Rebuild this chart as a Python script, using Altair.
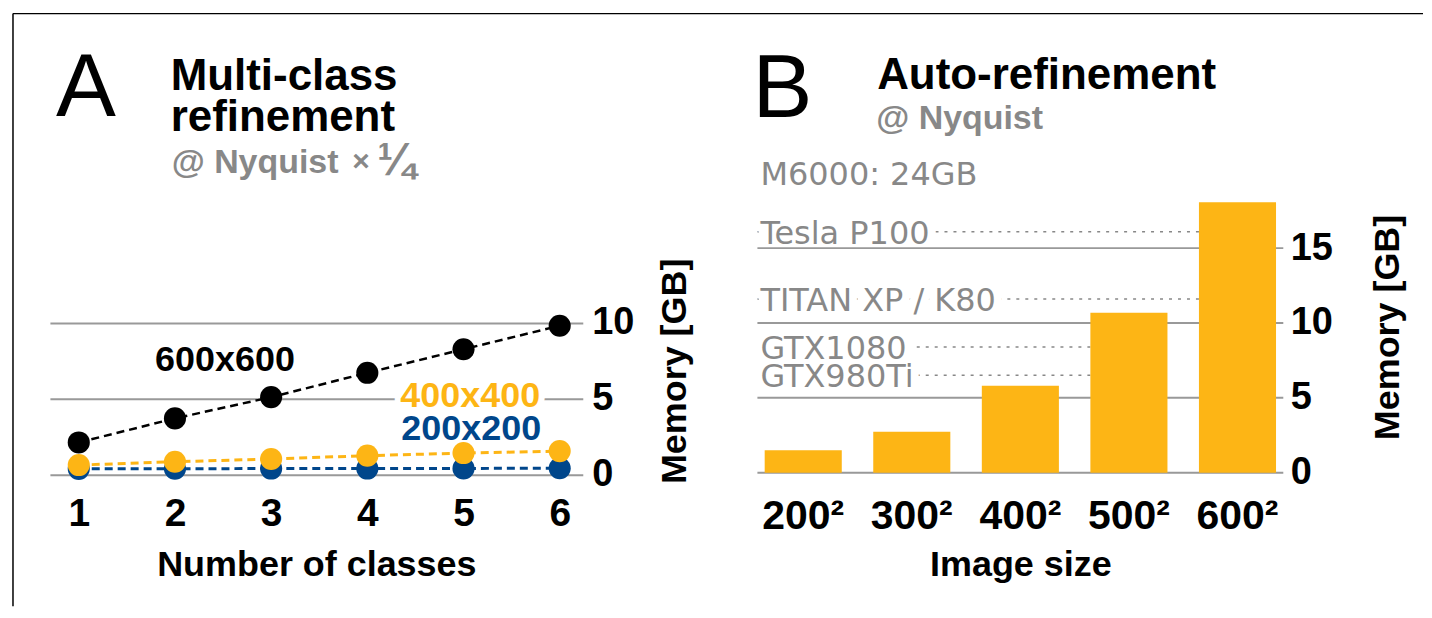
import altair as alt
import pandas as pd

# ---------------- Panel A: multi-class refinement ----------------
classes = [1, 2, 3, 4, 5, 6]
mem_600 = [2.12, 3.7, 5.1, 6.7, 8.25, 9.8]
mem_400 = [0.63, 0.85, 1.03, 1.25, 1.42, 1.55]
mem_200 = [0.38, 0.39, 0.40, 0.40, 0.41, 0.42]
series_order = ["600x600", "200x200", "400x400"]   # drawing order
ticks_a_y = [0, 5, 10]

# in-plot series labels, anchored in data units (class, GB)
label_a_text = ["600x600", "400x400", "200x200"]
label_a_class = [2.52, 5.07, 5.08]
label_a_mem = [7.54, 5.15, 2.98]
label_a_on_grid = ["400x400"]   # label that interrupts a grid line

# ---------------- Panel B: auto-refinement ----------------
sizes = ["200²", "300²", "400²", "500²", "600²"]
mem_auto = [1.5, 2.73, 5.8, 10.69, 18.07]
ticks_b_y = [0, 5, 10, 15]
gpus = ["Tesla P100", "TITAN XP / K80", "GTX1080", "GTX980Ti"]
gpu_mem = [16.1, 11.6, 8.4, 6.5]
top_gpu = "M6000: 24GB"
top_gpu_mem = 20.0

# ---------------- style ----------------
FONT = "Liberation Sans"
GPU_FONT = "DejaVu Sans"
BLACK = "#000000"
BLUE = "#00468B"
GOLD = "#FDB515"
GRID = "#999999"
GRAY = "#888888"

W_A, H_A = 534, 362
W_B, H_B = 527, 360


def one(text):
    return pd.DataFrame({"t": [text]})


def text_layer(text, x, y, size, color=BLACK, weight="normal", font=FONT):
    return alt.Chart(one(text)).mark_text(
        font=font, fontSize=size, fontWeight=weight, color=color,
        align="left", baseline="alphabetic"
    ).encode(text="t:N", x=alt.value(x), y=alt.value(y))


# ================= Panel A =================
series_vals = {"600x600": mem_600, "200x200": mem_200, "400x400": mem_400}
series_color = {"600x600": BLACK, "200x200": BLUE, "400x400": GOLD}
series_width = {"600x600": 2.5, "200x200": 3, "400x400": 3}

x_scale_a = alt.Scale(domain=[0.7, 6.24], nice=False, zero=False)
y_scale_a = alt.Scale(domain=[0, 23.77], nice=False)

x_axis_a = alt.Axis(
    values=classes, format="d", title="Number of classes", grid=False, ticks=False,
    domain=False, labelFont=FONT, labelFontSize=39, labelFontWeight="bold",
    labelColor=BLACK, labelPadding=20, labelFlush=False, labelOverlap=False,
    titleFont=FONT, titleFontSize=36, titleFontWeight="bold", titleColor=BLACK,
    titleY=101, titleBaseline="alphabetic",
)
y_axis_a = alt.Axis(
    orient="right", values=ticks_a_y, title="Memory [GB]", grid=True,
    gridColor=GRID, gridWidth=2, ticks=False, domain=False,
    labelFont=FONT, labelFontSize=38, labelFontWeight="bold", labelColor=BLACK,
    labelPadding=9, titleFont=FONT, titleFontSize=36, titleFontWeight="bold",
    titleColor=BLACK, titleAngle=270, titleX=92, titleY=258,
    titleAlign="center", titleBaseline="middle",
)


def xa(field="classes"):
    return alt.X(f"{field}:Q", scale=x_scale_a, axis=x_axis_a)


def ya(field="mem"):
    return alt.Y(f"{field}:Q", scale=y_scale_a, axis=y_axis_a)


layers_a = []

# frame (top-left corner of the figure box)
frame_df = one("")
layers_a.append(alt.Chart(frame_df).mark_rule(color=BLACK, strokeWidth=1.5).encode(
    x=alt.value(-37), y=alt.value(-100), y2=alt.value(494)))
layers_a.append(alt.Chart(frame_df).mark_rule(color=BLACK, strokeWidth=1.5).encode(
    x=alt.value(-37), x2=alt.value(1376), y=alt.value(-100)))

# titles
layers_a.append(text_layer("A", 6, 3, 90))
layers_a.append(text_layer("Multi-class", 121, -23, 44, weight="bold"))
layers_a.append(text_layer("refinement", 121, 18, 44, weight="bold"))
layers_a.append(text_layer("@ Nyquist", 122, 60, 34, color=GRAY, weight="bold"))
layers_a.append(text_layer("×", 303, 58, 30, color=GRAY, weight="bold"))
layers_a.append(text_layer("¼", 328, 62, 46, color=GRAY, weight="bold"))

for name in series_order:
    df = pd.DataFrame({"classes": classes, "mem": series_vals[name]})
    layers_a.append(alt.Chart(df).mark_line(
        color=series_color[name], strokeDash=[8, 5], strokeWidth=series_width[name]
    ).encode(x=xa(), y=ya()))

for name in series_order:
    df = pd.DataFrame({"classes": classes, "mem": series_vals[name]})
    layers_a.append(alt.Chart(df).mark_circle(
        color=series_color[name], size=490, opacity=1
    ).encode(x=xa(), y=ya()))

lab_df = pd.DataFrame({"label": label_a_text, "classes": label_a_class, "mem": label_a_mem})
halo_a_df = lab_df[lab_df["label"].isin(label_a_on_grid)]
lab_color = alt.Color("label:N", scale=alt.Scale(domain=label_a_text, range=[BLACK, GOLD, BLUE]), legend=None)
layers_a.append(alt.Chart(halo_a_df).mark_text(
    font=FONT, fontSize=36, fontWeight="bold", fill="white", stroke="white",
    strokeWidth=12, strokeJoin="round", align="center", baseline="middle"
).encode(x=xa(), y=ya(), text="label:N"))
layers_a.append(alt.Chart(lab_df).mark_text(
    font=FONT, fontSize=36, fontWeight="bold", align="center", baseline="middle"
).encode(x=xa(), y=ya(), text="label:N", color=lab_color))

panel_a = alt.layer(*layers_a).properties(width=W_A, height=H_A)

# ================= Panel B =================
bar_df = pd.DataFrame({"size": sizes, "mem": mem_auto})


def first_exceeding(m):
    for s, v in zip(sizes, mem_auto):
        if v > m:
            return s
    return sizes[-1]


gpu_df = pd.DataFrame({"gpu": gpus, "mem": gpu_mem, "until": [first_exceeding(m) for m in gpu_mem]})
top_df = pd.DataFrame({"gpu": [top_gpu], "mem": [top_gpu_mem]})
grid_df = pd.DataFrame({"mem": ticks_b_y})

x_scale_b = alt.Scale(domain=sizes, paddingInner=0.29, paddingOuter=0.067)
x_axis_b = alt.Axis(
    title="Image size", labelAngle=0, ticks=False, domain=False, grid=False,
    labelFont=FONT, labelFontSize=41, labelFontWeight="bold", labelColor=BLACK,
    labelPadding=24, titleFont=FONT, titleFontSize=36, titleFontWeight="bold",
    titleColor=BLACK, titleY=103, titleBaseline="alphabetic",
)
y_scale_b = alt.Scale(domain=[0, 24], nice=False)
y_axis_b = alt.Axis(
    orient="right", values=ticks_b_y, title="Memory [GB]", grid=False,
    ticks=False, domain=False, labelFont=FONT, labelFontSize=38,
    labelFontWeight="bold", labelColor=BLACK, labelPadding=7,
    titleFont=FONT, titleFontSize=36, titleFontWeight="bold", titleColor=BLACK,
    titleAngle=270, titleX=104, titleY=214, titleAlign="center", titleBaseline="middle",
)


def yb():
    return alt.Y("mem:Q", scale=y_scale_b, axis=y_axis_b)


layers_b = []
layers_b.append(text_layer("B", -5, 4, 90))
layers_b.append(text_layer("Auto-refinement", 120, -24, 44, weight="bold"))
layers_b.append(text_layer("@ Nyquist", 119, 16, 34, color=GRAY, weight="bold"))

layers_b.append(alt.Chart(gpu_df).mark_rule(
    color=GRAY, strokeWidth=1.5, strokeDash=[3, 6]
).encode(
    x=alt.X("until:N", sort=sizes, bandPosition=0, scale=x_scale_b, axis=x_axis_b),
    x2=alt.value(0),
    y=yb(),
))
layers_b.append(alt.Chart(gpu_df).mark_text(
    font=GPU_FONT, fontSize=32, fill="white", stroke="white", strokeWidth=16,
    strokeJoin="round", align="left", baseline="middle", dy=2
).encode(x=alt.value(3), y=yb(), text="gpu:N"))
layers_b.append(alt.Chart(grid_df).mark_rule(color=GRID, strokeWidth=2).encode(y=yb()))
for tdf in (gpu_df, top_df):
    layers_b.append(alt.Chart(tdf).mark_text(
        font=GPU_FONT, fontSize=32, color=GRAY, align="left", baseline="middle", dy=2
    ).encode(x=alt.value(3), y=yb(), text="gpu:N"))
layers_b.append(alt.Chart(bar_df).mark_bar(color=GOLD).encode(
    x=alt.X("size:N", sort=sizes, scale=x_scale_b, axis=x_axis_b), y=yb()))

panel_b = alt.layer(*layers_b).properties(width=W_B, height=H_B)

chart = alt.hconcat(panel_a, panel_b, spacing=175, bounds="flush").properties(
    padding={"left": 4, "top": 4, "right": 0, "bottom": 0}
).configure_view(strokeWidth=0)

chart.save("out.html", embed_options={"renderer": "svg", "actions": False})
